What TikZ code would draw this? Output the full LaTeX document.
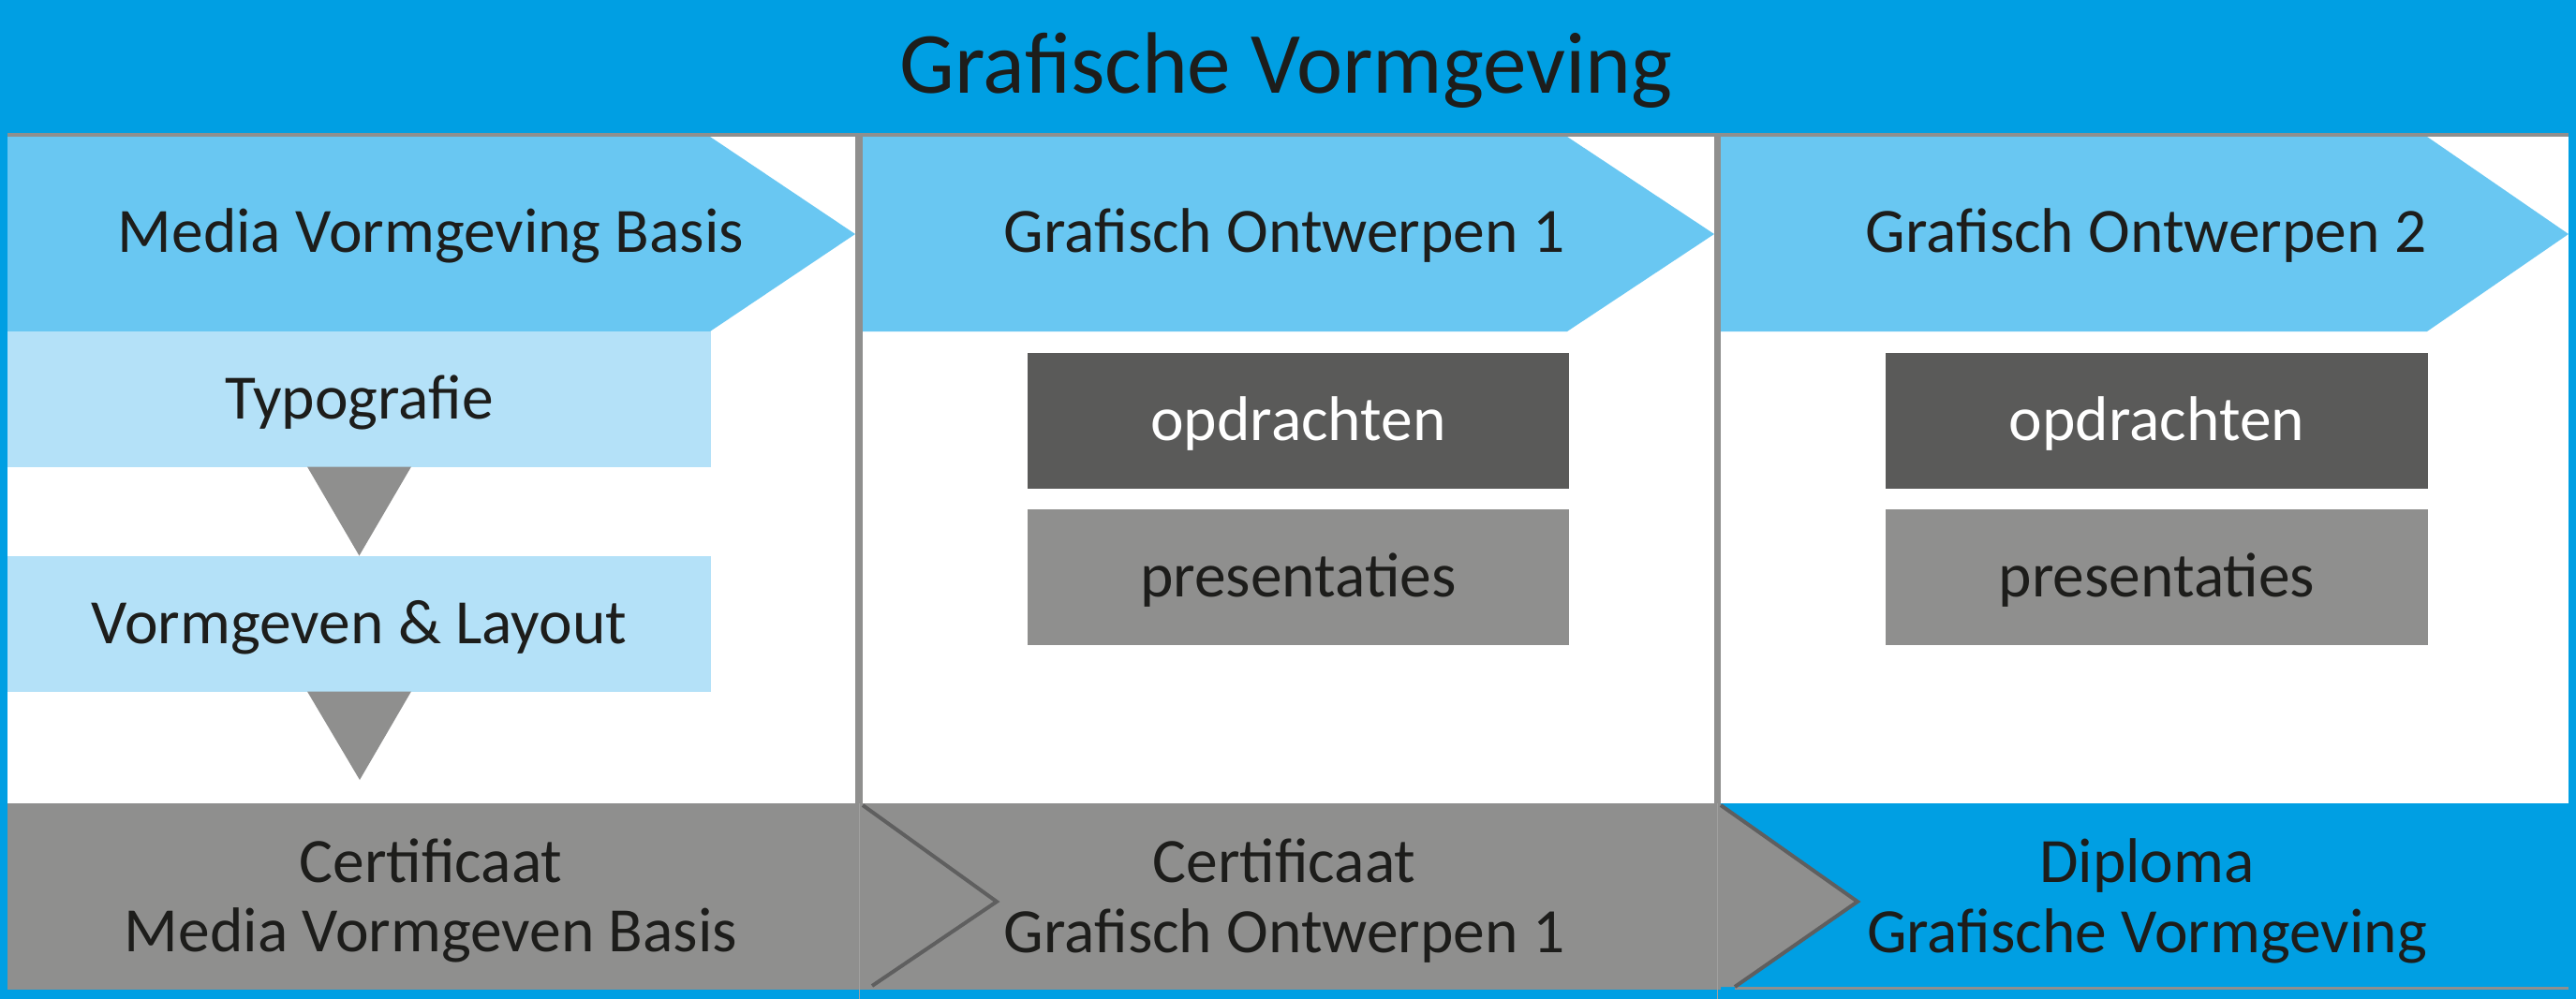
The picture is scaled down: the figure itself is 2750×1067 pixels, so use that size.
\documentclass[tikz,border=0pt]{standalone}
\usepackage{fontspec}
\setmainfont{Carlito}
\definecolor{vgblue}{RGB}{0,159,227}
\definecolor{vglight}{RGB}{105,199,242}
\definecolor{vgpale}{RGB}{180,225,248}
\definecolor{vggray}{RGB}{143,143,142}
\definecolor{vgdark}{RGB}{90,90,89}
\definecolor{vgline}{RGB}{95,95,95}
\definecolor{vgtext}{RGB}{29,29,27}
\tikzset{
  lbl/.style={inner sep=0pt, outer sep=0pt, text=vgtext,
    font=\fontsize{19.2}{21.3}\selectfont, text height=4.35mm, text depth=0pt},
  cell/.style={lbl, minimum height=14.5mm},
  duo/.style={inner sep=0pt, outer sep=0pt, text=vgtext, align=center,
    font=\fontsize{19.2}{21.3}\selectfont},
  chev/.style={fill=vglight},
  tri/.style={fill=vggray},
  fold/.style={draw=vgline, line width=0.4mm},
}
\begin{document}
\begin{tikzpicture}[x=0.1mm, y=-0.1mm]
  \useasboundingbox (0,0) rectangle (2750,1067);
  % background, frame
  \fill[vgblue] (0,0) rectangle (2750,1067);
  \fill[white] (8,146) rectangle (2742,858);
  \fill[vggray] (8,142) rectangle (2742,146);
  \node[lbl, font=\fontsize{26.5}{30}\selectfont, text height=6mm] (title) at (1373,69) {Grafische Vormgeving};

  % chevrons
  \fill[chev] (8,146) -- (758,146) -- (913,250) -- (758,354) -- (8,354) -- cycle;
  \fill[chev] (921,146) -- (1673,146) -- (1830,250) -- (1673,354) -- (921,354) -- cycle;
  \fill[chev] (1837,146) -- (2591,146) -- (2742,250) -- (2591,354) -- (1837,354) -- cycle;
  \node[lbl] (mvb) at (460,248) {Media Vormgeving Basis};
  \node[lbl] (go1) at (1371,248) {Grafisch Ontwerpen 1};
  \node[lbl] (go2) at (2291,248) {Grafisch Ontwerpen 2};

  % column dividers
  \fill[vggray] (913,146) rectangle (921,858);
  \fill[vggray] (1830,146) rectangle (1837,858);

  % first column
  \node[cell, fill=vgpale, minimum width=75.1mm] (typo) at (383.5,426) {Typografie};
  \node[cell, fill=vgpale, minimum width=75.1mm] (vorm) at (383.5,666) {Vormgeven \& Layout};
  \coordinate (end1) at (384,833);
  \fill[tri] ([xshift=-5.55mm]typo.south) -- ([xshift=5.55mm]typo.south) -- (vorm.north) -- cycle;
  \fill[tri] ([xshift=-5.55mm]vorm.south) -- ([xshift=5.55mm]vorm.south) -- (end1) -- cycle;

  % second and third column
  \node[cell, fill=vgdark, text=white, minimum width=57.8mm] (opd1) at (1386,449) {opdrachten};
  \node[cell, fill=vggray, minimum width=57.8mm] (pres1) at (1386,616) {presentaties};
  \node[cell, fill=vgdark, text=white, minimum width=57.9mm] (opd2) at (2302.5,449) {opdrachten};
  \node[cell, fill=vggray, minimum width=57.9mm] (pres2) at (2302.5,616) {presentaties};

  % bottom row
  \fill[vggray] (8,858) rectangle (1837,1057);
  \fill[vggray] (1852,1054) rectangle (2742,1057);
  \draw[vggray!85!white, line width=0.1mm] (917,858) -- (917,1067);
  \draw[vggray!85!white, line width=0.1mm] (1833,858) -- (1833,1067);
  \draw[fold] (921,860) -- (1064,963) -- (931,1053);
  \fill[tri] (1835,858) -- (1983,963) -- (1852,1054) -- (1835,1054) -- cycle;
  \draw[fold] (1837,860) -- (1983,963) -- (1852,1054);
  \node[duo] (cert1) at (460,962) {Certificaat\\Media Vormgeven Basis};
  \node[duo] (cert2) at (1371,962) {Certificaat\\Grafisch Ontwerpen 1};
  \node[duo] (dipl) at (2292,962) {Diploma\\Grafische Vormgeving};
\end{tikzpicture}
\end{document}
